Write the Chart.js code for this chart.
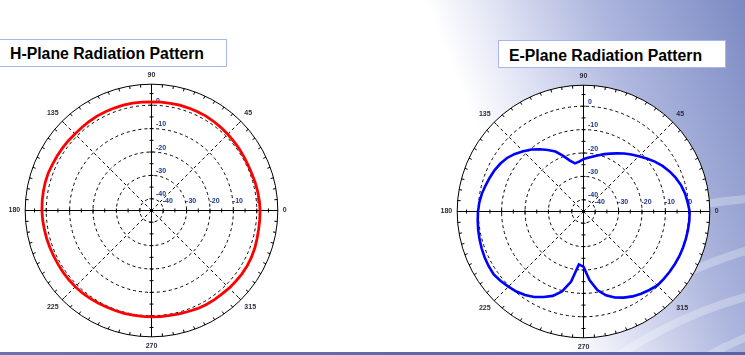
<!DOCTYPE html>
<html><head><meta charset="utf-8">
<script src="https://cdn.jsdelivr.net/npm/chart.js@4"></script>
<style>
html,body{margin:0;padding:0;}
body{width:745px;height:355px;overflow:hidden;position:relative;background:#fff;font-family:'Liberation Sans',Arial,sans-serif;}
#bg{position:absolute;left:0;top:0;width:745px;height:355px;overflow:hidden;background:linear-gradient(68deg,#ffffff 64%,#e2e5f5 71%,#aeb7de 83%,#7b8ac3 100%);}
.sw{position:absolute;border-radius:50%;border:8px solid rgba(255,255,255,0.28);box-sizing:border-box;}
#strip{position:absolute;left:0;top:352px;width:745px;height:3px;background:linear-gradient(to right,#6a72b0,#5462aa);}
.box{position:absolute;background:#fff;border:1px solid #a6b6ee;box-sizing:border-box;}
.title{position:absolute;font-weight:bold;font-size:15.8px;line-height:1;white-space:nowrap;color:#000;}
canvas{position:absolute;}
</style></head>
<body>
<div id="bg">
  <div class="sw" style="left:196px;top:193px;width:1200px;height:1200px;"></div>
  <div class="sw" style="left:391px;top:225px;width:1000px;height:1000px;"></div>
  <div class="sw" style="left:417px;top:276px;width:900px;height:900px;"></div>
  <div class="sw" style="left:498px;top:303px;width:800px;height:800px;"></div>
</div>
<div id="strip"></div>
<div class="box" style="left:-3px;top:39px;width:230px;height:28px;"></div>
<div class="title" style="left:10px;top:46px;">H-Plane Radiation Pattern</div>
<div class="box" style="left:498px;top:40px;width:228px;height:28px;"></div>
<div class="title" style="left:509px;top:48px;">E-Plane Radiation Pattern</div>
<canvas id="hplane" width="286" height="286" style="left:5px;top:67px;"></canvas>
<canvas id="eplane" width="286" height="286" style="left:437px;top:68px;"></canvas>
<script>
// ---- data (angle in degrees, counter-clockwise from the right; gain in dB) ----
const angles = [0,5,10,15,20,25,30,35,40,45,50,55,60,65,70,75,80,85,
  90,95,100,105,110,115,120,125,130,135,140,145,150,155,160,165,170,175,
  180,185,190,195,200,205,210,215,220,225,230,235,240,245,250,255,260,265,
  270,275,280,285,290,295,300,305,310,315,320,325,330,335,340,345,350,355];
const hPlaneDb = [1.4,1.3,1.1,0.9,0.7,0.6,0.7,0.85,0.95,1.1,1.25,1.45,1.6,1.6,1.6,1.6,1.55,1.5,
  1.45,1.5,1.6,1.65,1.6,1.6,1.6,1.45,1.35,1.3,1.4,1.5,1.6,1.7,1.95,2.0,1.95,1.9,
  1.85,1.7,1.5,1.4,1.25,1.1,1.1,1.1,1.1,1.05,1.0,0.85,0.7,0.55,0.5,0.5,0.45,0.45,
  0.45,0.5,0.55,0.7,0.95,1.3,1.55,1.65,1.7,1.95,2.05,2.2,2.25,2.15,2.0,1.7,1.5,1.45];
const ePlaneDb = [0.4,-0.3,-0.9,-1.8,-3.0,-4.4,-6.0,-7.8,-9.7,-11.6,-13.2,-14.7,-16.3,-17.7,-18.9,-20.1,-21.1,-21.9,
  -22.6,-23.6,-24.1,-22.5,-19.7,-16.7,-14.6,-12.5,-10.4,-8.6,-6.7,-5.1,-4.0,-3.1,-2.4,-1.7,-0.9,-0.3,
  0.1,0.4,0.7,1.0,1.3,1.6,1.8,1.85,1.2,0.4,-0.35,-1.4,-2.8,-4.7,-6.6,-9.6,-14.6,-22.3,
  -21.4,-15.6,-10.9,-7.9,-5.9,-4.4,-3.1,-2.1,-1.2,-0.35,-0.2,-0.05,0.05,0.2,0.25,0.3,0.35,0.4];
const ringTicks = [-40,-30,-20,-10,0];
const minorTicks = [-40,-35,-30,-25,-20,-15,-10,-5,0,5];
const shownAngles = [0,45,90,135,180,225,270,315];
const axisAngles = [0,90,180,270];
const scaleMin = -45;
const scaleMax = 9;

// radar charts run clockwise from the top: reorder so 90 is first, 0 is on the right
const order = angles.map((a, k) => k).sort((p, q) => ((450 - angles[p]) % 360) - ((450 - angles[q]) % 360));
const radarLabels = order.map(k => String(angles[k]));
const hData = order.map(k => hPlaneDb[k]);
const eData = order.map(k => ePlaneDb[k]);

const FONT = "'Liberation Sans', Arial, sans-serif";
Chart.defaults.font.family = FONT;

const polarDecor = {
  id: 'polarDecor',
  beforeDraw(chart) { chart.ctx.save(); chart.ctx.translate(0.5, 0.5); },
  afterDraw(chart) { chart.ctx.restore(); },
  beforeDatasetsDraw(chart) {
    const s = chart.scales.r, ctx = chart.ctx;
    const labels = chart.data.labels;
    const R = s.getDistanceFromCenterForValue(scaleMax);
    ctx.save();
    ctx.strokeStyle = '#000';
    ctx.lineWidth = 1;
    ctx.setLineDash([]);
    ctx.beginPath();
    for (let i = 0; i < labels.length; i++) {
      const p1 = s.getPointPosition(i, R), p2 = s.getPointPosition(i, R - 3);
      ctx.moveTo(p1.x, p1.y); ctx.lineTo(p2.x, p2.y);
    }
    axisAngles.forEach(a => {
      const i = labels.indexOf(String(a));
      minorTicks.forEach(v => {
        const p = s.getPointPosition(i, s.getDistanceFromCenterForValue(v));
        const nx = -Math.sin(p.angle), ny = Math.cos(p.angle);
        ctx.moveTo(p.x - 2 * nx, p.y - 2 * ny); ctx.lineTo(p.x + 2 * nx, p.y + 2 * ny);
      });
    });
    ctx.stroke();
    ctx.beginPath();
    ctx.arc(s.xCenter, s.yCenter, 1.6, 0, Math.PI * 2);
    ctx.fillStyle = '#000';
    ctx.fill();
    ctx.font = 'bold 7px ' + FONT;
    ctx.fillStyle = '#1e3a86';
    ctx.textAlign = 'left';
    ctx.textBaseline = 'alphabetic';
    ringTicks.forEach(v => {
      const d = s.getDistanceFromCenterForValue(v);
      ctx.fillText(String(v), s.xCenter + 4.5, s.yCenter - d - 2.5);
      ctx.fillText(String(v), s.xCenter + d - 0.5, s.yCenter - 7.5);
    });
    ctx.restore();
  }
};

function makeChart(id, values, color, width) {
  return new Chart(document.getElementById(id), {
    type: 'radar',
    data: {
      labels: radarLabels,
      datasets: [{ data: values, borderColor: color, borderWidth: width, pointRadius: 0, fill: false, tension: 0 }]
    },
    options: {
      responsive: false,
      animation: false,
      events: [],
      plugins: { legend: { display: false }, tooltip: { enabled: false } },
      scales: {
        r: {
          min: scaleMin,
          max: scaleMax,
          startAngle: 0,
          backgroundColor: '#ffffff',
          afterBuildTicks: sc => { sc.ticks = ringTicks.concat([scaleMax]).map(v => ({ value: v })); },
          ticks: { display: false },
          grid: { circular: true, color: '#000', lineWidth: 1 },
          border: { dash: c => (c.index < ringTicks.length ? [3, 3] : []) },
          angleLines: {
            display: true,
            color: '#000',
            lineWidth: c => (shownAngles.includes(Number(radarLabels[c.index])) ? 1 : 0),
            borderDash: c => (axisAngles.includes(Number(radarLabels[c.index])) ? [] : [3, 3])
          },
          pointLabels: {
            display: true,
            padding: 5,
            color: '#2e2c3a',
            font: { size: 7, weight: 'bold', family: FONT },
            callback: (label) => (shownAngles.includes(Number(label)) ? label : '')
          }
        }
      }
    },
    plugins: [polarDecor]
  });
}

makeChart('hplane', hData, '#ff0000', 2.8);
makeChart('eplane', eData, '#0000ff', 2.6);
</script>
</body></html>
